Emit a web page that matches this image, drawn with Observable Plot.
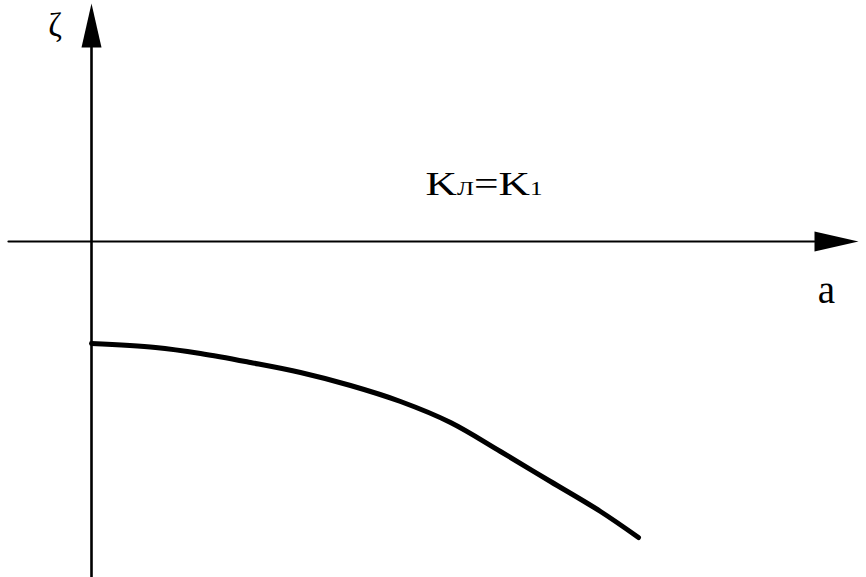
<!DOCTYPE html>
<html>
<head>
<meta charset="utf-8">
<script src="https://cdn.jsdelivr.net/npm/d3@7"></script>
<script src="https://cdn.jsdelivr.net/npm/@observablehq/plot@0.6"></script>
<style>
  html, body { margin: 0; padding: 0; background: #fff; }
  #chart svg { display: block; }
</style>
</head>
<body>
<div id="chart"></div>
<script>
// Curve ζ(a) for K_Л = K_1 (arbitrary units)
const curveA    = [0, 0.64, 1.09, 1.59, 2.09, 2.59, 3.09, 3.59, 4.09, 4.59, 5.09, 5.47];
const curveZeta = [-1.02, -1.06, -1.12, -1.21, -1.31, -1.44, -1.60, -1.81, -2.10, -2.40, -2.70, -2.96];

// Axis extents (data units)
const xAxisFrom = -0.83, xAxisTo = 7.23;   // horizontal axis line up to arrowhead base
const yAxisFrom = -3.36, yAxisTo = 1.94;   // vertical axis line up to arrowhead base

// Labels
const axisLabels = [
  {a: -0.365, z: 2.156, text: "ζ", size: 33},
  {a: 7.35,   z: -0.495, text: "a", size: 39}
];
const curveLabelParts = [
  {t: "K", sub: false}, {t: "Л", sub: true}, {t: "=K", sub: false}, {t: "1", sub: true}
];
const curveLabelPos = {a: 3.34, z: 0.566};

const curve = curveA.map((a, i) => ({a, z: curveZeta[i]}));

const arrowHead = {
  draw(context, l, r) {
    context.moveTo(-r, 0);
    context.lineTo(0, -l);
    context.lineTo(r, 0);
    context.closePath();
  }
};

const chart = Plot.plot({
  width: 866,
  height: 577,
  margin: 0,
  x: {domain: [-0.91, 7.75], axis: null},
  y: {domain: [-3.36, 2.41], axis: null},
  style: {background: "#fff", fontFamily: "'Liberation Serif', 'DejaVu Serif', serif", color: "#000"},
  marks: [
    // axes
    Plot.line([{a: xAxisFrom, z: 0}, {a: xAxisTo, z: 0}], {x: "a", y: "z", stroke: "#000", strokeWidth: 2.2}),
    Plot.line([{a: 0, z: yAxisFrom}, {a: 0, z: yAxisTo}], {x: "a", y: "z", stroke: "#000", strokeWidth: 2.6}),
    Plot.vector([{a: xAxisTo, z: 0}], {x: "a", y: "z", length: 44, r: 10, rotate: 90, anchor: "start", shape: arrowHead, fill: "#000", stroke: "none"}),
    Plot.vector([{a: 0, z: yAxisTo}], {x: "a", y: "z", length: 44, r: 10, rotate: 0, anchor: "start", shape: arrowHead, fill: "#000", stroke: "none"}),
    // curve
    Plot.line(curve, {x: "a", y: "z", stroke: "#000", strokeWidth: 5, curve: "catmull-rom"}),
    // axis labels
    ...axisLabels.map(d => Plot.text([d], {x: "a", y: "z", text: "text", fontSize: d.size, fill: "#000", lineAnchor: "middle", textAnchor: "middle"})),
    // curve label with subscripts
    Plot.text([curveLabelPos], {
      x: "a", y: "z", text: () => curveLabelParts.map(p => p.t).join(""),
      fontSize: 33, fill: "#000", textAnchor: "start", lineAnchor: "middle",
      render(index, scales, values, dims, ctx, next) {
        const g = next(index, scales, values, dims, ctx);
        d3.select(g).selectAll("text").each(function() {
          const t = d3.select(this);
          t.text("");
          curveLabelParts.forEach(p => {
            t.append("tspan").attr("font-size", p.sub ? 19 : 33).text(p.t);
          });
          t.attr("textLength", 117).attr("lengthAdjust", "spacingAndGlyphs");
        });
        return g;
      }
    })
  ]
});

document.getElementById("chart").appendChild(chart);
</script>
</body>
</html>
